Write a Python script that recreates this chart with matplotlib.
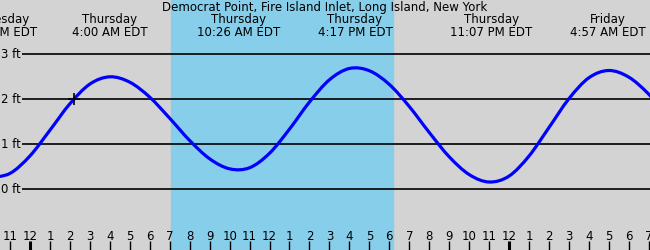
"""Tide chart: Democrat Point, Fire Island Inlet."""

import numpy as np
import matplotlib
matplotlib.use("Agg")
import matplotlib.pyplot as plt
import matplotlib.transforms as mtransforms
from matplotlib.path import Path
from matplotlib.patches import PathPatch

TITLE = "Democrat Point, Fire Island Inlet, Long Island, New York"

# hours counted from Thursday 00:00, heights in ft
hours = list(range(-2, 33))
heights = [0.26, 0.354, 0.743, 1.314, 1.902, 2.339, 2.50, 2.380, 2.047, 1.578,
           1.084, 0.678, 0.455, 0.479, 0.801, 1.338, 1.939, 2.434, 2.685, 2.635,
           2.331, 1.840, 1.264, 0.723, 0.328, 0.162, 0.294, 0.740, 1.373, 2.014,
           2.479, 2.640, 2.492, 2.112, 1.589]

# high / low tide labels
tide_hours = [-1.7, 4.0, 10.43, 16.28, 23.12, 28.95]
tide_days = ["Wednesday", "Thursday", "Thursday", "Thursday", "Thursday", "Friday"]
tide_times = ["10:18 PM EDT", "4:00 AM EDT", "10:26 AM EDT", "4:17 PM EDT",
              "11:07 PM EDT", "4:57 AM EDT"]

sunrise, sunset = 7.05, 18.19
now_hour, now_height = 2.2, 2.0
levels = [0, 1, 2, 3]
tick_hours = list(range(-1, 32))

BG = "#d3d3d3"
DAY = "#87ceeb"
FS = 8.5


def smooth_path(x, y):
    # catmull-rom through the read points, drawn as bezier segments
    p = np.column_stack([x, y]).astype(float)
    p = np.vstack([p[0], p, p[-1]])
    verts = [p[1]]
    codes = [Path.MOVETO]
    for i in range(1, len(p) - 2):
        c1 = p[i] + (p[i + 1] - p[i - 1]) / 6
        c2 = p[i + 1] - (p[i + 2] - p[i]) / 6
        verts += [c1, c2, p[i + 1]]
        codes += [Path.CURVE4] * 3
    return Path(verts, codes)


fig = plt.figure(figsize=(6.5, 2.5), dpi=100, facecolor=BG)
ax = fig.add_axes([0, 0, 1, 1])
ax.set_xlim(-1.503, 31.06)
ax.set_ylim(-1.349, 4.207)
ax.axis("off")

ax.axvspan(sunrise, sunset, color=DAY, zorder=0)

for lv in levels:
    ax.hlines(lv, -0.4, 32, color="black", lw=1.2, zorder=1)
    ax.text(-1.43, lv, f"{lv} ft", ha="left", va="center", fontsize=FS)

ax.add_patch(PathPatch(smooth_path(hours, heights), fill=False,
                       edgecolor="#0000ff", lw=2.3, zorder=3))
ax.plot(now_hour, now_height, marker="+", color="black", ms=8, mew=1.2, zorder=4)

tr = mtransforms.blended_transform_factory(ax.transData, ax.transAxes)
ax.text(0.5, 0.97, TITLE, transform=ax.transAxes, ha="center", va="center", fontsize=FS)
for h, d, t in zip(tide_hours, tide_days, tide_times):
    ax.text(h, 0.922, d, transform=tr, ha="center", va="center", fontsize=FS)
    ax.text(h, 0.872, t, transform=tr, ha="center", va="center", fontsize=FS)

for h in tick_hours:
    lw = 2.2 if h % 24 == 0 else 1.0
    ax.vlines(h, 0.0, 0.036, transform=tr, color="black", lw=lw)
    lab = (h % 12) or 12
    ax.text(h, 0.056, str(lab), transform=tr, ha="center", va="center", fontsize=FS)

fig.savefig("out.png", dpi=100, facecolor=BG)
